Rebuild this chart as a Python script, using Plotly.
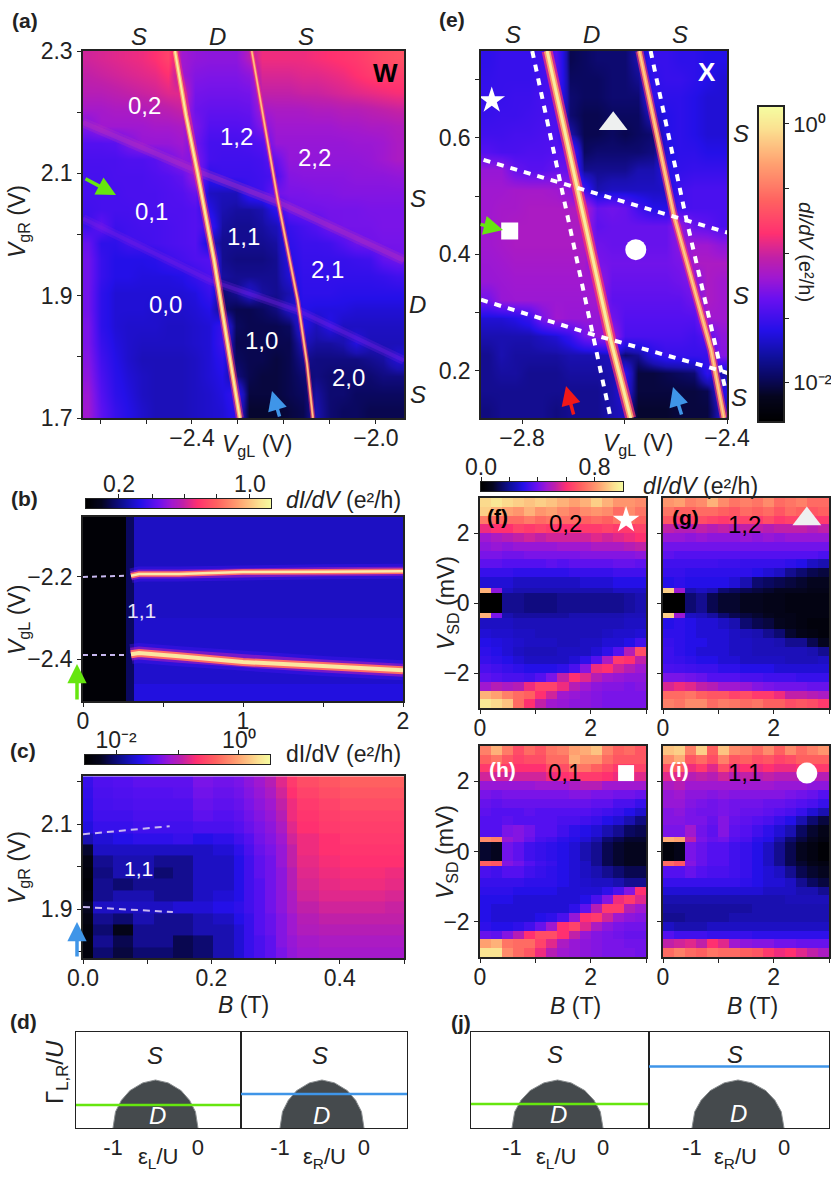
import numpy as np
import plotly.graph_objects as go

W, H = 831, 1185
FONT = 'Liberation Sans'
INK = '#222222'

# levels are positions on the colour bar, 0 (bottom) to 100 (top)
bar_scale = [[0, '#000000'], [0.08, '#05051e'], [0.14, '#0a0860'], [0.21, '#1010a0'], [0.29, '#2410e8'],
             [0.39, '#6a10f0'], [0.46, '#a018d0'], [0.52, '#c020a8'], [0.60, '#ff3070'], [0.70, '#ff6060'],
             [0.82, '#ffa070'], [0.93, '#fbe090'], [1, '#f5fca0']]
heat_scale = [[0, '#000000'], [0.05, '#05051e'], [0.09, '#0a0860'], [0.14, '#1a10b0'], [0.20, '#2410e8'],
              [0.30, '#5410f0'], [0.38, '#7a14e8'], [0.46, '#a018d0'], [0.52, '#c020a8'], [0.60, '#ff3070'],
              [0.70, '#ff6060'], [0.82, '#ffa070'], [0.93, '#fbe090'], [1, '#f5fca0']]
ramp_levels = [0, 5, 10, 15, 20, 25, 30, 35, 40, 45, 50, 55, 60, 65, 70, 75, 80, 85, 90, 95, 100]

# panel (a)
a_vgl = [-2.626, -2.597, -2.567, -2.539, -2.509, -2.48, -2.452, -2.422, -2.393, -2.363, -2.335, -2.304,
         -2.276, -2.248, -2.217, -2.189, -2.159, -2.13, -2.1, -2.072, -2.043, -2.013, -1.985, -1.954]
a_vgr = [2.288, 2.26, 2.232, 2.206, 2.178, 2.15, 2.124, 2.096, 2.068, 2.042, 2.014, 1.986,
         1.96, 1.932, 1.904, 1.878, 1.85, 1.822, 1.796, 1.768, 1.74, 1.712]
a_levels = [
    [54, 55, 56, 57, 58, 60, 64, 46, 43, 42, 42, 42, 50, 58, 58, 58, 58, 59, 60, 61, 62, 64, 66, 67],
    [52, 53, 54, 55, 56, 57, 60, 46, 40, 39, 39, 39, 42, 55, 55, 55, 56, 56, 57, 58, 60, 62, 63, 63],
    [50, 50, 51, 52, 53, 54, 56, 56, 37, 36, 36, 36, 37, 52, 52, 52, 53, 53, 54, 55, 56, 57, 58, 59],
    [47, 47, 48, 48, 49, 50, 51, 53, 35, 33, 33, 33, 34, 47, 48, 48, 48, 49, 49, 50, 50, 51, 52, 53],
    [40, 46, 46, 46, 46, 47, 47, 48, 38, 30, 30, 30, 31, 40, 46, 46, 46, 46, 46, 47, 47, 48, 48, 49],
    [30, 30, 31, 38, 44, 44, 44, 46, 36, 27, 27, 27, 28, 30, 44, 44, 44, 44, 44, 44, 45, 45, 46, 48],
    [28, 28, 28, 29, 29, 31, 36, 42, 40, 27, 26, 26, 26, 27, 34, 43, 43, 43, 43, 43, 43, 44, 46, 48],
    [27, 27, 28, 28, 28, 29, 30, 33, 45, 22, 25, 25, 25, 26, 28, 40, 41, 41, 41, 41, 42, 42, 42, 43],
    [27, 27, 27, 28, 28, 28, 29, 30, 34, 16, 15, 15, 24, 26, 36, 38, 38, 39, 39, 40, 40, 40, 40, 40],
    [26, 27, 27, 27, 28, 28, 29, 29, 30, 20, 14, 13, 13, 14, 22, 34, 36, 36, 37, 37, 37, 38, 38, 38],
    [25, 33, 25, 26, 27, 27, 28, 29, 30, 26, 13, 12, 12, 13, 15, 24, 27, 30, 36, 37, 37, 37, 38, 38],
    [34, 22, 22, 26, 26, 27, 28, 29, 30, 16, 12, 12, 12, 12, 13, 22, 25, 25, 26, 30, 35, 36, 37, 37],
    [36, 24, 20, 20, 20, 21, 25, 27, 29, 30, 12, 11, 11, 11, 12, 20, 24, 24, 24, 24, 25, 26, 33, 36],
    [36, 24, 20, 20, 19, 19, 19, 20, 24, 28, 13, 12, 12, 12, 12, 18, 23, 23, 23, 23, 23, 23, 24, 26],
    [36, 22, 18, 18, 18, 18, 18, 18, 19, 24, 10, 12, 17, 13, 12, 14, 22, 22, 22, 21, 21, 21, 21, 21],
    [36, 22, 18, 18, 18, 17, 17, 17, 18, 20, 10, 8, 8, 9, 11, 16, 20, 19, 19, 19, 18, 18, 18, 18],
    [38, 22, 18, 17, 17, 17, 16, 16, 17, 18, 24, 9, 8, 8, 8, 9, 20, 15, 20, 16, 16, 16, 16, 16],
    [38, 24, 19, 17, 16, 16, 16, 16, 17, 18, 25, 8, 8, 8, 8, 8, 15, 13, 13, 14, 19, 15, 15, 15],
    [40, 26, 20, 17, 15, 15, 15, 15, 16, 18, 22, 9, 8, 8, 7, 8, 12, 11, 11, 11, 11, 12, 13, 18],
    [42, 28, 21, 18, 16, 15, 15, 15, 16, 18, 20, 11, 8, 7, 7, 8, 10, 11, 10, 10, 10, 10, 11, 11],
    [45, 30, 22, 19, 16, 15, 15, 15, 16, 17, 19, 24, 7, 7, 7, 8, 9, 13, 10, 10, 9, 9, 9, 9],
    [46, 32, 24, 20, 17, 15, 15, 15, 16, 17, 18, 22, 6, 6, 6, 7, 8, 14, 10, 9, 9, 8, 8, 8],
]
a_left_x = [-2.437, -2.413, -2.389, -2.352, -2.318, -2.296]
a_left_y = [2.3, 2.195, 2.105, 1.958, 1.8, 1.7]
a_right_x = [-2.27, -2.24, -2.213, -2.17, -2.15, -2.137]
a_right_y = [2.3, 2.17, 2.055, 1.892, 1.79, 1.7]
a_upper_x = [-2.637, -2.393, -2.213, -1.939]
a_upper_y = [2.183, 2.105, 2.053, 1.958]
a_lower_x = [-2.637, -2.361, -2.17, -1.939]
a_lower_y = [2.026, 1.925, 1.876, 1.794]

# panel (e)
e_vgl = [-2.867, -2.841, -2.814, -2.787, -2.761, -2.733, -2.706, -2.68, -2.653, -2.625, -2.6, -2.573,
         -2.545, -2.52, -2.492, -2.465, -2.439, -2.412]
e_vgr = [0.733, 0.701, 0.67, 0.639, 0.606, 0.575, 0.544, 0.511, 0.48, 0.449, 0.416, 0.385,
         0.354, 0.321, 0.29, 0.259, 0.227, 0.196, 0.165, 0.132]
e_levels = [
    [22, 24, 24, 24, 26, 30, 8, 9, 10, 10, 10, 14, 24, 24, 22, 22, 20, 20],
    [23, 24, 24, 24, 26, 30, 9, 9, 9, 10, 10, 12, 22, 24, 24, 22, 20, 18],
    [24, 24, 25, 25, 27, 28, 10, 9, 9, 10, 10, 10, 22, 22, 22, 20, 18, 18],
    [24, 25, 25, 26, 27, 28, 10, 8, 8, 9, 9, 9, 16, 20, 22, 20, 18, 18],
    [26, 26, 27, 27, 28, 29, 14, 8, 8, 9, 8, 9, 10, 20, 22, 20, 18, 18],
    [30, 28, 28, 29, 29, 30, 32, 9, 10, 10, 10, 10, 11, 18, 22, 22, 20, 20],
    [44, 44, 34, 31, 31, 34, 34, 12, 12, 12, 12, 14, 14, 20, 23, 24, 24, 24],
    [46, 46, 47, 47, 47, 46, 42, 26, 14, 16, 16, 16, 16, 16, 26, 28, 28, 28],
    [46, 47, 47, 48, 48, 48, 48, 50, 34, 36, 34, 26, 20, 20, 26, 28, 28, 28],
    [46, 47, 48, 48, 48, 48, 48, 48, 32, 34, 34, 34, 34, 34, 44, 34, 32, 28],
    [46, 47, 48, 48, 48, 48, 48, 48, 36, 34, 34, 34, 34, 34, 42, 46, 46, 42],
    [45, 46, 47, 47, 47, 47, 47, 47, 38, 36, 36, 36, 36, 36, 38, 48, 48, 48],
    [44, 45, 46, 46, 46, 46, 46, 46, 46, 34, 34, 34, 34, 34, 36, 40, 48, 46],
    [36, 44, 45, 45, 45, 45, 45, 45, 46, 32, 32, 32, 32, 32, 32, 36, 48, 46],
    [18, 18, 20, 24, 38, 46, 44, 44, 44, 36, 30, 30, 30, 30, 30, 30, 46, 46],
    [14, 14, 14, 14, 16, 18, 24, 36, 42, 46, 28, 28, 28, 28, 28, 26, 30, 42],
    [12, 14, 13, 13, 13, 13, 14, 14, 14, 16, 10, 12, 20, 24, 24, 24, 24, 40],
    [12, 13, 13, 12, 12, 12, 13, 13, 13, 14, 22, 7, 7, 8, 9, 10, 22, 14],
    [12, 12, 12, 12, 12, 12, 12, 12, 12, 14, 20, 7, 7, 7, 7, 7, 8, 20],
    [11, 12, 12, 12, 12, 11, 12, 12, 12, 14, 16, 6, 6, 6, 7, 7, 7, 16],
]
e_left_x = [-2.751, -2.692, -2.627, -2.588]
e_left_y = [0.749, 0.511, 0.253, 0.119]
e_right_x = [-2.571, -2.504, -2.431, -2.406]
e_right_y = [0.749, 0.468, 0.236, 0.119]
e_guide_left_x = [-2.78, -2.725, -2.661, -2.627]
e_guide_left_y = [0.749, 0.523, 0.262, 0.119]
e_guide_right_x = [-2.549, -2.48, -2.425, -2.402]
e_guide_right_y = [0.749, 0.463, 0.253, 0.164]
e_guide_upper_x = [-2.875, -2.398]
e_guide_upper_y = [0.562, 0.437]
e_guide_lower_x = [-2.88, -2.661, -2.431, -2.398]
e_guide_lower_y = [0.322, 0.262, 0.205, 0.196]

# panel (b)
b_field = [0, 0.27, 0.32, 2]
b_vgl = [-2.502, -2.46, -2.3, -2.054]
b_levels = [[1, 9, 19], [1, 9, 17], [1, 9, 16]]
b_top_x = [0.3, 0.35, 0.6, 1, 1.5, 2]
b_top_y = [-2.197, -2.193, -2.193, -2.188, -2.187, -2.186]
b_bot_x = [0.3, 0.35, 0.6, 1, 1.5, 2]
b_bot_y = [-2.388, -2.385, -2.393, -2.407, -2.417, -2.427]
b_dash_x = [0, 0.28]
b_dash_top_y = [-2.2, -2.197]
b_dash_bot_y = [-2.39, -2.39]

# panel (c)
c_field = [0, 0.016, 0.047, 0.078, 0.11, 0.14, 0.172, 0.203, 0.235, 0.25, 0.267, 0.283, 0.3, 0.318, 0.333,
           0.367, 0.4, 0.43, 0.47, 0.5]
c_vgr = [2.199, 2.173, 2.147, 2.119, 2.093, 2.065, 2.039, 2.013, 1.985, 1.959, 1.931, 1.905, 1.876, 1.85, 1.824, 1.796]
c_levels = [
    [24, 29, 30, 32, 32, 32, 38, 36, 38, 42, 46, 50, 56, 62, 66, 68, 70, 70, 70],
    [23, 28, 29, 30, 30, 31, 36, 34, 36, 40, 44, 48, 54, 60, 64, 66, 68, 68, 68],
    [22, 27, 28, 29, 29, 29, 34, 32, 34, 38, 42, 46, 52, 58, 62, 64, 66, 66, 66],
    [21, 26, 26, 28, 28, 28, 32, 30, 32, 36, 40, 44, 50, 58, 61, 63, 64, 64, 64],
    [19, 24, 24, 26, 26, 26, 28, 28, 30, 34, 38, 42, 48, 56, 60, 62, 63, 63, 63],
    [14, 18, 20, 22, 22, 24, 20, 22, 26, 30, 36, 40, 46, 54, 58, 60, 62, 62, 62],
    [6, 16, 16, 16, 16, 16, 16, 18, 22, 28, 34, 38, 44, 52, 58, 60, 61, 61, 61],
    [3, 12, 14, 14, 12, 12, 16, 16, 20, 26, 32, 36, 44, 52, 57, 59, 60, 60, 60],
    [2, 11, 14, 14, 10, 12, 16, 16, 20, 26, 32, 36, 42, 50, 56, 58, 59, 59, 58],
    [1, 12, 10, 12, 12, 12, 16, 16, 20, 26, 30, 36, 42, 50, 55, 57, 58, 58, 57],
    [2, 12, 14, 14, 12, 12, 16, 18, 20, 26, 30, 36, 42, 48, 54, 56, 56, 56, 55],
    [5, 16, 16, 16, 16, 18, 18, 20, 22, 26, 30, 36, 42, 48, 52, 54, 54, 54, 53],
    [3, 12, 10, 14, 12, 12, 14, 16, 20, 24, 30, 34, 40, 46, 50, 52, 52, 52, 52],
    [2, 10, 4, 12, 12, 12, 14, 14, 18, 24, 30, 34, 40, 46, 49, 50, 50, 50, 50],
    [2, 12, 8, 12, 12, 8, 10, 14, 18, 24, 28, 32, 40, 44, 47, 48, 48, 48, 48],
    [2, 10, 7, 10, 10, 8, 10, 14, 18, 24, 28, 32, 38, 43, 46, 47, 47, 47, 47],
]
c_dash_top_x = [0, 0.135]
c_dash_top_y = [2.076, 2.095]
c_dash_bot_x = [0, 0.14]
c_dash_bot_y = [1.905, 1.893]

# panels (f) to (i): bias rows run from +3 mV down to -3 mV
sd_field = [0, 0.2, 0.4, 0.6, 0.8, 1.0, 1.2, 1.4, 1.6, 1.8, 2.0, 2.2, 2.4, 2.6, 2.8, 3.0]
sd_bias = [3, 2.75, 2.5, 2.25, 2, 1.75, 1.5, 1.25, 1, 0.75, 0.42, 0.28, -0.28, -0.42, -0.75,
           -1, -1.25, -1.5, -1.75, -2, -2.25, -2.5, -2.75, -3]
f_levels = [
    [92, 95, 92, 90, 88, 90, 88, 85, 82, 85, 90, 85, 80, 80, 78],
    [90, 85, 82, 80, 85, 80, 82, 78, 75, 78, 80, 78, 72, 78, 74],
    [75, 72, 72, 72, 75, 72, 74, 72, 72, 70, 72, 70, 74, 72, 70],
    [58, 60, 60, 64, 62, 64, 62, 60, 60, 62, 62, 64, 62, 62, 64],
    [46, 48, 50, 52, 54, 52, 54, 54, 54, 54, 56, 54, 56, 58, 60],
    [42, 44, 42, 44, 44, 44, 44, 46, 46, 46, 48, 48, 48, 50, 52],
    [38, 38, 36, 36, 38, 38, 38, 38, 38, 40, 40, 40, 40, 40, 42],
    [32, 32, 30, 30, 30, 30, 32, 30, 32, 32, 32, 32, 34, 34, 32],
    [24, 24, 24, 22, 22, 22, 22, 22, 24, 24, 24, 24, 26, 26, 26],
    [18, 18, 18, 16, 16, 16, 16, 16, 16, 18, 18, 18, 20, 20, 20],
    [85, 42, 16, 14, 14, 14, 14, 14, 14, 14, 14, 14, 16, 16, 16],
    [0, 0, 12, 12, 11, 11, 11, 12, 12, 12, 12, 12, 12, 13, 14],
    [85, 38, 14, 13, 13, 13, 13, 13, 14, 14, 14, 14, 14, 15, 15],
    [16, 16, 16, 15, 15, 15, 15, 15, 15, 15, 15, 15, 15, 16, 16],
    [18, 17, 17, 16, 16, 15, 15, 15, 15, 15, 15, 16, 17, 17, 18],
    [20, 19, 18, 17, 16, 16, 16, 15, 15, 16, 16, 18, 18, 20, 26],
    [22, 20, 18, 16, 15, 15, 15, 16, 16, 16, 18, 22, 30, 50, 66],
    [24, 22, 20, 18, 16, 16, 16, 16, 18, 22, 30, 48, 62, 60, 52],
    [28, 26, 24, 22, 20, 20, 20, 22, 28, 40, 58, 60, 54, 50, 46],
    [32, 30, 28, 28, 26, 30, 38, 52, 60, 56, 50, 46, 44, 42, 42],
    [46, 50, 48, 50, 58, 64, 64, 58, 50, 46, 42, 40, 40, 38, 40],
    [85, 82, 76, 72, 70, 60, 54, 46, 44, 42, 40, 38, 38, 38, 38],
    [95, 92, 88, 72, 60, 52, 46, 44, 42, 42, 40, 38, 38, 38, 38],
]
g_levels = [
    [80, 82, 76, 78, 85, 78, 74, 76, 74, 78, 72, 74, 76, 72, 72],
    [74, 70, 70, 72, 72, 70, 68, 72, 70, 72, 68, 72, 70, 68, 70],
    [68, 62, 64, 66, 64, 62, 64, 64, 62, 66, 62, 64, 64, 62, 62],
    [52, 50, 50, 52, 50, 52, 50, 52, 52, 50, 52, 52, 52, 50, 52],
    [44, 44, 42, 44, 42, 42, 42, 44, 42, 44, 42, 44, 44, 44, 44],
    [36, 36, 36, 36, 36, 36, 36, 36, 36, 36, 36, 36, 36, 36, 36],
    [32, 30, 30, 30, 30, 30, 30, 30, 30, 30, 30, 30, 30, 30, 28],
    [26, 26, 26, 26, 26, 25, 25, 24, 24, 24, 24, 22, 20, 16, 14],
    [24, 24, 22, 22, 22, 22, 22, 22, 20, 18, 16, 12, 10, 8, 7],
    [20, 22, 20, 20, 20, 20, 18, 14, 10, 9, 8, 7, 6, 5, 5],
    [90, 45, 14, 16, 14, 10, 9, 8, 7, 6, 5, 5, 5, 4, 4],
    [0, 0, 10, 12, 8, 6, 6, 5, 5, 4, 4, 3, 3, 3, 3],
    [90, 45, 16, 15, 13, 10, 8, 7, 6, 5, 4, 4, 3, 3, 3],
    [20, 22, 20, 18, 18, 16, 14, 10, 8, 7, 5, 4, 3, 2, 2],
    [22, 22, 20, 18, 18, 18, 16, 15, 14, 12, 10, 6, 4, 3, 2],
    [24, 22, 20, 20, 18, 18, 16, 16, 15, 15, 14, 12, 12, 8, 5],
    [25, 22, 20, 18, 18, 18, 16, 16, 15, 15, 15, 15, 15, 14, 12],
    [25, 24, 22, 20, 20, 18, 18, 16, 16, 16, 16, 15, 15, 15, 16],
    [28, 27, 26, 25, 25, 22, 22, 20, 20, 20, 18, 18, 18, 18, 18],
    [38, 38, 36, 34, 30, 30, 30, 28, 28, 26, 26, 26, 24, 24, 24],
    [55, 58, 56, 52, 50, 46, 46, 44, 40, 38, 36, 36, 36, 34, 34],
    [72, 72, 74, 70, 68, 68, 64, 66, 62, 62, 58, 52, 52, 50, 48],
    [76, 74, 78, 78, 72, 75, 74, 72, 74, 70, 70, 66, 68, 66, 62],
]
h_levels = [
    [76, 85, 75, 66, 72, 68, 74, 76, 82, 84, 88, 76, 70, 72, 68],
    [70, 74, 68, 64, 66, 66, 72, 72, 84, 80, 80, 72, 68, 68, 68],
    [62, 64, 62, 60, 60, 60, 66, 66, 74, 74, 70, 66, 62, 62, 64],
    [54, 54, 54, 54, 54, 54, 58, 60, 62, 62, 62, 60, 58, 58, 56],
    [44, 44, 44, 44, 44, 46, 46, 46, 48, 50, 50, 46, 46, 46, 46],
    [38, 36, 38, 38, 38, 38, 38, 38, 40, 40, 38, 38, 36, 36, 34],
    [34, 32, 34, 34, 34, 34, 34, 34, 34, 34, 32, 32, 28, 28, 24],
    [32, 30, 30, 30, 32, 30, 30, 30, 30, 30, 28, 26, 24, 20, 17],
    [30, 30, 32, 30, 30, 30, 30, 28, 28, 26, 24, 20, 18, 14, 11],
    [30, 30, 38, 40, 36, 30, 30, 26, 22, 20, 18, 14, 12, 9, 8],
    [78, 76, 44, 40, 34, 28, 26, 22, 20, 18, 14, 10, 8, 6, 6],
    [6, 5, 36, 32, 26, 24, 22, 20, 18, 14, 12, 8, 6, 5, 5],
    [70, 68, 40, 36, 30, 26, 24, 20, 18, 16, 12, 8, 6, 5, 5],
    [28, 26, 30, 30, 26, 24, 22, 20, 18, 16, 14, 12, 10, 8, 8],
    [24, 24, 24, 24, 22, 22, 22, 20, 18, 17, 16, 16, 14, 12, 12],
    [22, 22, 22, 20, 20, 20, 20, 18, 18, 18, 18, 22, 28, 40, 60],
    [20, 20, 20, 18, 18, 18, 18, 18, 18, 20, 28, 40, 58, 62, 56],
    [20, 18, 18, 18, 18, 18, 18, 18, 22, 32, 50, 62, 62, 50, 46],
    [20, 18, 18, 18, 18, 20, 22, 28, 44, 60, 62, 54, 46, 42, 40],
    [22, 20, 20, 22, 26, 34, 46, 60, 64, 56, 48, 42, 38, 36, 36],
    [34, 32, 40, 50, 60, 66, 66, 60, 52, 44, 40, 38, 36, 34, 34],
    [82, 85, 74, 72, 72, 64, 56, 48, 44, 42, 40, 38, 38, 36, 36],
    [94, 94, 78, 72, 68, 58, 50, 46, 44, 42, 40, 38, 38, 38, 36],
]
i_levels = [
    [88, 90, 76, 90, 70, 88, 78, 76, 72, 78, 70, 78, 72, 76, 80],
    [78, 84, 68, 72, 66, 76, 68, 70, 66, 68, 64, 66, 70, 70, 70],
    [66, 70, 58, 62, 56, 66, 58, 60, 58, 60, 58, 58, 60, 62, 62],
    [56, 56, 50, 52, 50, 54, 50, 52, 50, 52, 50, 50, 50, 50, 50],
    [48, 50, 46, 46, 46, 46, 46, 46, 46, 46, 44, 44, 44, 42, 42],
    [44, 46, 42, 42, 40, 42, 40, 40, 40, 40, 40, 38, 36, 34, 30],
    [44, 44, 40, 38, 36, 38, 36, 36, 36, 34, 34, 32, 30, 28, 24],
    [40, 42, 38, 36, 36, 38, 36, 34, 34, 32, 30, 28, 24, 18, 14],
    [40, 40, 38, 38, 34, 40, 34, 32, 30, 28, 24, 20, 14, 10, 7],
    [38, 38, 46, 36, 32, 40, 32, 30, 26, 22, 18, 14, 9, 6, 4],
    [84, 82, 52, 38, 34, 36, 30, 28, 22, 20, 14, 10, 7, 5, 3],
    [2, 4, 38, 34, 30, 30, 26, 24, 20, 16, 12, 8, 5, 3, 1],
    [72, 68, 40, 34, 30, 30, 26, 24, 20, 16, 12, 8, 6, 4, 3],
    [30, 30, 34, 30, 28, 28, 26, 24, 20, 18, 16, 12, 8, 6, 5],
    [24, 24, 24, 24, 24, 24, 24, 22, 20, 18, 18, 16, 12, 9, 7],
    [18, 18, 18, 18, 18, 18, 18, 18, 18, 16, 16, 16, 14, 14, 12],
    [14, 14, 14, 14, 14, 14, 14, 14, 14, 14, 14, 15, 15, 15, 15],
    [13, 13, 13, 13, 13, 13, 13, 13, 14, 14, 14, 14, 14, 14, 14],
    [12, 12, 13, 13, 13, 13, 14, 14, 14, 14, 14, 14, 14, 14, 14],
    [16, 14, 14, 14, 16, 16, 16, 16, 16, 16, 16, 16, 16, 16, 16],
    [30, 26, 26, 26, 24, 24, 24, 24, 22, 22, 22, 22, 22, 22, 22],
    [52, 54, 56, 52, 60, 56, 46, 42, 40, 40, 36, 36, 34, 34, 34],
    [72, 76, 72, 70, 74, 72, 72, 70, 68, 62, 58, 60, 56, 52, 48],
]

# panels (d) and (j)
dome_eps = [-1, -0.97, -0.9, -0.8, -0.65, -0.5, -0.35, -0.2, -0.1, -0.03, 0]
dome_gamma = [0, 0.17, 0.29, 0.39, 0.47, 0.5, 0.47, 0.39, 0.29, 0.17, 0]
d_left_cut = 0.24
d_right_cut = 0.354
j_left_cut = 0.25
j_right_cut = 0.64


def frac_x(px):
    return px / W


def frac_y(py):
    return 1 - py / H


fig = go.Figure()
next_axis = [2]


def tick_set(vals, labels, minor):
    out = dict(tickmode='array', tickvals=vals, ticktext=labels)
    if minor:
        out['minor'] = dict(tickmode='array', tickvals=minor, ticks='outside', ticklen=4, tickwidth=1.3,
                            tickcolor=INK, showgrid=False)
    return out


def add_axes(box, xr, yr, xticks=(), xlabels=(), yticks=(), ylabels=(), xminor=None, yminor=None, line=1.5,
             xside='bottom', yside='left', size=23, standoff=-5):
    n = next_axis[0]
    next_axis[0] += 1
    left, right, top, bottom = box
    common = dict(showgrid=False, zeroline=False, mirror=True, showline=True, linecolor=INK, linewidth=line,
                  ticks='outside', ticklen=4, tickcolor=INK, tickwidth=1.3,
                  tickfont=dict(size=size, color=INK, family=FONT), automargin=False)
    fig.layout[f'xaxis{n}'] = dict(common, domain=[frac_x(left), frac_x(right)], range=xr, anchor=f'y{n}', side=xside,
                                   ticklabelstandoff=standoff, **tick_set(list(xticks), list(xlabels), xminor))
    fig.layout[f'yaxis{n}'] = dict(common, domain=[frac_y(bottom), frac_y(top)], range=yr, anchor=f'x{n}', side=yside,
                                   **tick_set(list(yticks), list(ylabels), yminor))
    return f'x{n}', f'y{n}'


def heat(axes, x, y, z, smooth=False, scale=None):
    fig.add_trace(go.Heatmap(x=x, y=y, z=z, xaxis=axes[0], yaxis=axes[1], colorscale=scale or heat_scale, zmin=0,
                             zmax=100, zsmooth='best' if smooth else False, showscale=False, hoverinfo='skip'))


def top_ramp(left, right, top, bottom, vals, labels, minor):
    axes = add_axes((left, right, top, bottom), [0, 100], [0, 1], vals, labels, xminor=minor, xside='top', line=1,
                    standoff=-7)
    heat(axes, ramp_levels, [0, 1], [ramp_levels, ramp_levels], smooth=True, scale=bar_scale)


def stroke(axes, x, y, color, width, dash=None):
    fig.add_trace(go.Scatter(x=x, y=y, xaxis=axes[0], yaxis=axes[1], mode='lines', showlegend=False, hoverinfo='skip',
                             line=dict(color=color, width=width, dash=dash)))


def glow(axes, x, y, layers):
    for width, color in layers:
        stroke(axes, x, y, color, width)


def mark(axes, x, y, symbol, size, color='white'):
    fig.add_trace(go.Scatter(x=[x], y=[y], xaxis=axes[0], yaxis=axes[1], mode='markers', showlegend=False,
                             hoverinfo='skip', marker=dict(symbol=symbol, size=size, color=color, line_width=0)))


def label(px, py, text, size=23, color=INK, angle=0):
    fig.add_annotation(xref='paper', yref='paper', x=frac_x(px), y=frac_y(py), text=text, showarrow=False,
                       xanchor='center', yanchor='middle', textangle=angle,
                       font=dict(size=size, color=color, family=FONT))


def arrow(tip_x, tip_y, tail_x, tail_y, color):
    fig.add_annotation(xref='paper', yref='paper', x=frac_x(tip_x), y=frac_y(tip_y), text='', showarrow=True,
                       axref='pixel', ayref='pixel', ax=tail_x - tip_x, ay=tail_y - tip_y, arrowhead=2, arrowsize=1.1,
                       arrowwidth=3.5, arrowcolor=color)


GREEN = '#66e60f'
BLUE = '#3f95e8'
RED = '#f01818'
DI_DV = '<i>dI/dV</i> (e²/h)'

# (a)
ax_a = add_axes((83, 404, 51, 418), [-2.637, -1.939], [1.7, 2.3],
                [-2.4, -2.0], ['−2.4', '−2.0'], [1.7, 1.9, 2.1, 2.3], ['1.7', '1.9', '2.1', '2.3'],
                xminor=[-2.6, -2.5, -2.3, -2.2, -2.1], yminor=[1.8, 2.0, 2.2])
heat(ax_a, a_vgl, a_vgr, a_levels, smooth=True)
glow(ax_a, a_upper_x, a_upper_y, [(10, 'rgba(185,50,185,0.25)'), (5, 'rgba(185,50,185,0.35)')])
glow(ax_a, a_lower_x, a_lower_y, [(9, 'rgba(120,30,225,0.25)'), (4, 'rgba(120,30,225,0.35)')])
glow(ax_a, a_left_x, a_left_y, [(8, 'rgba(255,50,110,0.5)'), (4.5, '#ff9a6a'), (2, '#f8eca0')])
glow(ax_a, a_right_x, a_right_y, [(5, 'rgba(255,50,110,0.5)'), (2.5, '#ff8f66'), (1, '#ffc890')])
for px, py, txt in [(144, 105, '0,2'), (236, 136, '1,2'), (314, 157, '2,2'), (151, 211, '0,1'), (244, 236, '1,1'),
                    (327, 269, '2,1'), (165, 304, '0,0'), (261, 340, '1,0'), (348, 377, '2,0')]:
    label(px, py, txt, 24, 'white')
label(385, 73, '<b>W</b>', 26, 'black')
label(25, 21, '<b>(a)</b>', 21)
for px, py, txt in [(139, 36, 'S'), (217, 36, 'D'), (306, 36, 'S'), (418, 198, 'S'), (417, 304, 'D'), (418, 395, 'S')]:
    label(px, py, f'<i>{txt}</i>', 24)
label(257, 446, '<i>V</i><sub>gL</sub> (V)')
label(18, 222, '<i>V</i><sub>gR</sub> (V)', angle=-90)
arrow(116, 195, 84, 178, GREEN)
arrow(272, 391, 280, 418, BLUE)

# (e)
ax_e = add_axes((481, 727, 51, 418), [-2.88, -2.4], [0.119, 0.749],
                [-2.8, -2.4], ['−2.8', '−2.4'], [0.2, 0.4, 0.6], ['0.2', '0.4', '0.6'],
                xminor=[-2.6], yminor=[0.3, 0.5, 0.7])
heat(ax_e, e_vgl, e_vgr, e_levels, smooth=True)
glow(ax_e, e_left_x, e_left_y, [(11, 'rgba(255,50,110,0.7)'), (6.5, '#ff9a6a'), (3, '#f8eca0')])
glow(ax_e, e_right_x, e_right_y, [(8, 'rgba(255,50,110,0.6)'), (4.5, '#ff9a6a'), (1.5, '#fbd090')])
for gx, gy in [(e_guide_left_x, e_guide_left_y), (e_guide_right_x, e_guide_right_y),
               (e_guide_upper_x, e_guide_upper_y), (e_guide_lower_x, e_guide_lower_y)]:
    stroke(ax_e, gx, gy, 'white', 4, '7px,7px')
mark(ax_e, -2.859, 0.664, 'star', 20)
mark(ax_e, -2.622, 0.624, 'triangle-up', 25, '#eef0f0')
mark(ax_e, -2.824, 0.44, 'square', 17)
mark(ax_e, -2.578, 0.408, 'circle', 21)
label(707, 72, '<b>X</b>', 26, 'white')
label(452, 19, '<b>(e)</b>', 21)
for px, py, txt in [(513, 35, 'S'), (591, 35, 'D'), (680, 35, 'S'), (741, 133, 'S'), (741, 295, 'S'), (739, 398, 'S')]:
    label(px, py, f'<i>{txt}</i>', 24)
label(638, 444, '<i>V</i><sub>gL</sub> (V)')
arrow(503, 230, 479, 224, GREEN)
arrow(673, 387, 682, 416, BLUE)
arrow(566, 386, 574, 416, RED)

# colour bar beside (e)
ax_side = add_axes((759, 783, 107, 421), [0, 1], [0, 100], yticks=[12.4, 94.6],
                   ylabels=['10⁻²', '10⁰'], yminor=[32.8, 53.5, 73.9], yside='right', size=22)
fig.layout[ax_side[0].replace('x', 'xaxis')].ticks = ''
heat(ax_side, [0, 1], ramp_levels, [[v, v] for v in ramp_levels], smooth=True, scale=bar_scale)
label(806, 252, DI_DV, 20, angle=90)

# (b)
ax_b = add_axes((83, 403, 517, 701), [0, 2], [-2.502, -2.054], [0, 1, 2], ['0', '1', '2'],
                [-2.4, -2.2], ['−2.4', '−2.2'], xminor=[0.5, 1.5])
heat(ax_b, b_field, b_vgl, b_levels)
top_ramp(86, 271, 499, 508, [17.8, 88.6], ['0.2', '1.0'], [35.7, 53.5, 70.8])
glow(ax_b, b_top_x, b_top_y, [(15, 'rgba(70,20,240,0.4)'), (9, 'rgba(170,30,190,0.6)'), (5.5, '#ff6a68'), (2.5, '#fbeaa8')])
glow(ax_b, b_bot_x, b_bot_y, [(20, 'rgba(70,20,240,0.4)'), (13, 'rgba(170,30,190,0.6)'), (8, '#ff6a68'), (4, '#fbe6a0')])
stroke(ax_b, b_dash_x, b_dash_top_y, '#c8b8f0', 2, '5px,4px')
stroke(ax_b, b_dash_x, b_dash_bot_y, '#c8b8f0', 2, '5px,4px')
label(24, 498, '<b>(b)</b>', 21)
label(343, 500, DI_DV)
label(141, 610, '1,1', 21, '#e8e4f8')
label(18, 620, '<i>V</i><sub>gL</sub> (V)', angle=-90)
arrow(77, 664, 77, 701, GREEN)

# (c)
ax_c = add_axes((83, 404, 776, 958), [0, 0.5], [1.785, 2.213], [0, 0.2, 0.4], ['0.0', '0.2', '0.4'],
                [1.9, 2.1], ['1.9', '2.1'], xminor=[0.1, 0.3, 0.5], yminor=[1.8, 2.0, 2.2])
heat(ax_c, c_field, c_vgr, c_levels)
top_ramp(85, 270, 755, 764, [16.8, 83.2], ['10⁻²', '10⁰'], [50.3])
stroke(ax_c, c_dash_top_x, c_dash_top_y, '#c8b8f0', 2, '7px,5px')
stroke(ax_c, c_dash_bot_x, c_dash_bot_y, '#c8b8f0', 2, '7px,5px')
label(23, 750, '<b>(c)</b>', 21)
label(343, 754, 'dI/dV (e²/h)')
label(138, 868, '1,1', 21, 'white')
label(18, 868, '<i>V</i><sub>gR</sub> (V)', angle=-90)
label(244, 1005, '<i>B</i> (T)')
arrow(77, 922, 77, 958, BLUE)

# (f) to (i)
small_panels = [
    ((480, 646, 498, 708), f_levels, True),
    ((663, 829, 498, 708), g_levels, False),
    ((480, 646, 746, 957), h_levels, True),
    ((663, 829, 746, 957), i_levels, False),
]
small_axes = []
for box, levels, with_text in small_panels:
    axes = add_axes(box, [0, 3], [-3, 3], [0, 2], ['0', '2'], [-2, 0, 2], ['−2', '0', '2'], xminor=[1, 3])
    if not with_text:
        fig.layout[axes[1].replace('y', 'yaxis')].showticklabels = False
    heat(axes, sd_field, sd_bias[::-1], np.array(levels)[::-1])
    small_axes.append(axes)
top_ramp(481, 623, 482, 491, [0, 80], ['0.0', '0.8'], [20, 40, 60])
mark(small_axes[0], 2.64, 2.37, 'star', 20)
mark(small_axes[1], 2.6, 2.4, 'triangle-up', 25, '#eef0f0')
mark(small_axes[2], 2.64, 2.23, 'square', 16)
mark(small_axes[3], 2.6, 2.23, 'circle', 21)
label(700, 486, DI_DV)
label(497, 516, '<b>(f)</b>', 21, 'black')
label(565, 523, '0,2', 24, 'black')
label(685, 517, '<b>(g)</b>', 21, 'black')
label(744, 524, '1,2', 24, 'black')
label(502, 769, '<b>(h)</b>', 21, 'white')
label(564, 772, '0,1', 24, 'black')
label(679, 769, '<b>(i)</b>', 21, 'white')
label(744, 772, '1,1', 24, 'black')
label(447, 603, '<i>V</i><sub>SD</sub> (mV)', angle=-90)
label(447, 852, '<i>V</i><sub>SD</sub> (mV)', angle=-90)
label(575, 1006, '<i>B</i> (T)')
label(752, 1006, '<i>B</i> (T)')

# (d) and (j)
sketches = [
    ((76, 241, 1032, 1128), [-1.435, 0.506], d_left_cut, GREEN),
    ((241, 407, 1032, 1128), [-1.464, 0.512], d_right_cut, BLUE),
    ((471, 649, 1032, 1128), [-1.45, 0.505], j_left_cut, GREEN),
    ((649, 829, 1032, 1128), [-1.467, 0.489], j_right_cut, BLUE),
]
for box, xr, cut, color in sketches:
    axes = add_axes(box, xr, [0, 1], [-1, 0], ['-1', '0'], line=1.3, size=22)
    fig.add_trace(go.Scatter(x=dome_eps, y=dome_gamma, xaxis=axes[0], yaxis=axes[1], mode='lines', fill='toself',
                             fillcolor='#454a4d', line=dict(color='#8a8e90', width=1), showlegend=False,
                             hoverinfo='skip'))
    stroke(axes, xr, [cut, cut], color, 2.5)
    fig.layout[axes[0].replace('x', 'xaxis')].tickcolor = 'rgba(0,0,0,0)'
for px, py, col, txt in [(155, 1055, INK, 'S'), (157, 1115, 'white', 'D'), (320, 1055, INK, 'S'), (321, 1115, 'white', 'D'),
                         (555, 1054, INK, 'S'), (558, 1114, 'white', 'D'), (735, 1054, INK, 'S'), (738, 1113, 'white', 'D')]:
    label(px, py, f'<i>{txt}</i>', 24, col)
label(23, 1021, '<b>(d)</b>', 21)
label(461, 1022, '<b>(j)</b>', 21)
label(56, 1072, 'Γ<sub>L,R</sub>/<i>U</i>', 24, angle=-90)
label(158, 1158, 'ε<sub>L</sub>/U', 22)
label(324, 1158, 'ε<sub>R</sub>/U', 22)
label(556, 1158, 'ε<sub>L</sub>/U', 22)
label(735, 1158, 'ε<sub>R</sub>/U', 22)

fig.update_layout(width=W, height=H, margin=dict(l=0, r=0, t=0, b=0), paper_bgcolor='white', plot_bgcolor='white',
                  showlegend=False, font=dict(family=FONT, color=INK, size=20))

# drop the page's default body margin so the 831x1185 figure fills the window
fig.write_html("out.html", default_width=f'{W}px', default_height=f'{H}px',
               config={'displayModeBar': False},
               post_script="document.body.style.margin='0';")
